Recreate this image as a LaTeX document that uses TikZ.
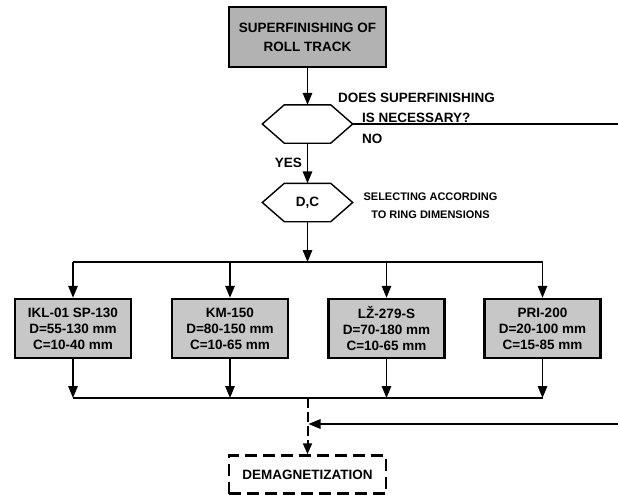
\documentclass[tikz,border=0pt]{standalone}
\usepackage{fontspec}
\setmainfont{Liberation Sans}
\usetikzlibrary{arrows.meta}
\begin{document}
\begin{tikzpicture}[x=1pt,y=-1pt,
  conn/.style={line width=1.5pt, draw=black},
  arr/.style={conn, -{Triangle[length=12pt,width=9.5pt]}},
  dasharr/.style={line width=2pt, dash pattern=on 10pt off 4pt, -{Triangle[length=11pt,width=9pt]}},
  txt/.style={font=\fontsize{13.5}{16}\selectfont\bfseries, inner sep=0pt},
  smalltxt/.style={font=\fontsize{11}{18}\selectfont\bfseries, inner sep=0pt, align=center},
  topbox/.style={draw, line width=2.5pt, fill=black!30, minimum width=157pt, minimum height=60pt, align=center, txt},
  machbox/.style={draw, line width=2.5pt, fill=black!22, minimum width=116pt, minimum height=59pt, align=center, txt},
  hexbox/.style={minimum width=90pt, minimum height=38pt, inner sep=0pt, txt},
  hexline/.style={line width=1.4pt},
  demagbox/.style={draw, line width=2.5pt, dash pattern=on 12pt off 6pt, minimum width=157pt, minimum height=38pt, txt}
]
\useasboundingbox (0,0) rectangle (618,495);

% nodes
\node[topbox] (top) at (307.5,37) {SUPERFINISHING OF\\[3pt]ROLL TRACK};
\node[hexbox] (h1) at (307.5,124) {};
\node[hexbox] (h2) at (307.5,202.5) {D,C};
\foreach \n in {h1,h2}{
  \draw[hexline] (\n.west) -- ([xshift=22pt]\n.north west) -- ([xshift=-22pt]\n.north east)
     -- (\n.east) -- ([xshift=-22pt]\n.south east) -- ([xshift=22pt]\n.south west) -- cycle;
}
\node[txt, anchor=west] (q1) at (338,98) {DOES SUPERFINISHING};
\node[txt, anchor=west] (q2) at (362,118) {IS NECESSARY?};
\node[txt, anchor=west] (no) at (362,138.5) {NO};
\node[txt, anchor=east] (yes) at (302,163) {YES};
\node[smalltxt] (sel) at (430.5,206) {SELECTING ACCORDING\\TO RING DIMENSIONS};

\node[machbox] (b1) at (73,328.5) {IKL-01 SP-130\\D=55-130 mm\\C=10-40 mm};
\node[machbox] (b2) at (230,328.5) {KM-150\\D=80-150 mm\\C=10-65 mm};
\node[machbox] (b3) at (386.5,328.5) {LŽ-279-S\\D=70-180 mm\\C=10-65 mm};
\node[machbox] (b4) at (542.5,328.5) {PRI-200\\D=20-100 mm\\C=15-85 mm};

\node[demagbox] (dm) at (307.5,474.5) {DEMAGNETIZATION};

% junction coordinates
\coordinate (t0) at (307.5,262);
\coordinate (t1) at (73,262);
\coordinate (t2) at (230,262);
\coordinate (t3) at (386.5,262);
\coordinate (t4) at (542.5,262);
\coordinate (u1) at (73,398);
\coordinate (u2) at (230,398);
\coordinate (u3) at (386.5,398);
\coordinate (u4) at (542.5,398);
\coordinate (u0) at (307.5,398);
\coordinate (rno) at (618,124);
\coordinate (rin) at (618,424);
\coordinate (jin) at (308.5,424);

% connectors
\draw[arr] (top.south) -- (h1.north);
\draw[conn] (h1.east) -- (rno);
\draw[arr] (h1.south) -- (h2.north);
\draw[arr] (h2.south) -- (t0);
\draw[conn] (t1) -- (t4);
\foreach \i in {1,2,3,4}{
  \draw[arr] (t\i) -- (b\i.north);
  \draw[arr] (b\i.south) -- (u\i);
}
\draw[conn] (u1) -- (u4);
\draw[dasharr] (u0) -- (dm.north);
\draw[arr] (rin) -- (jin);
\end{tikzpicture}
\end{document}
